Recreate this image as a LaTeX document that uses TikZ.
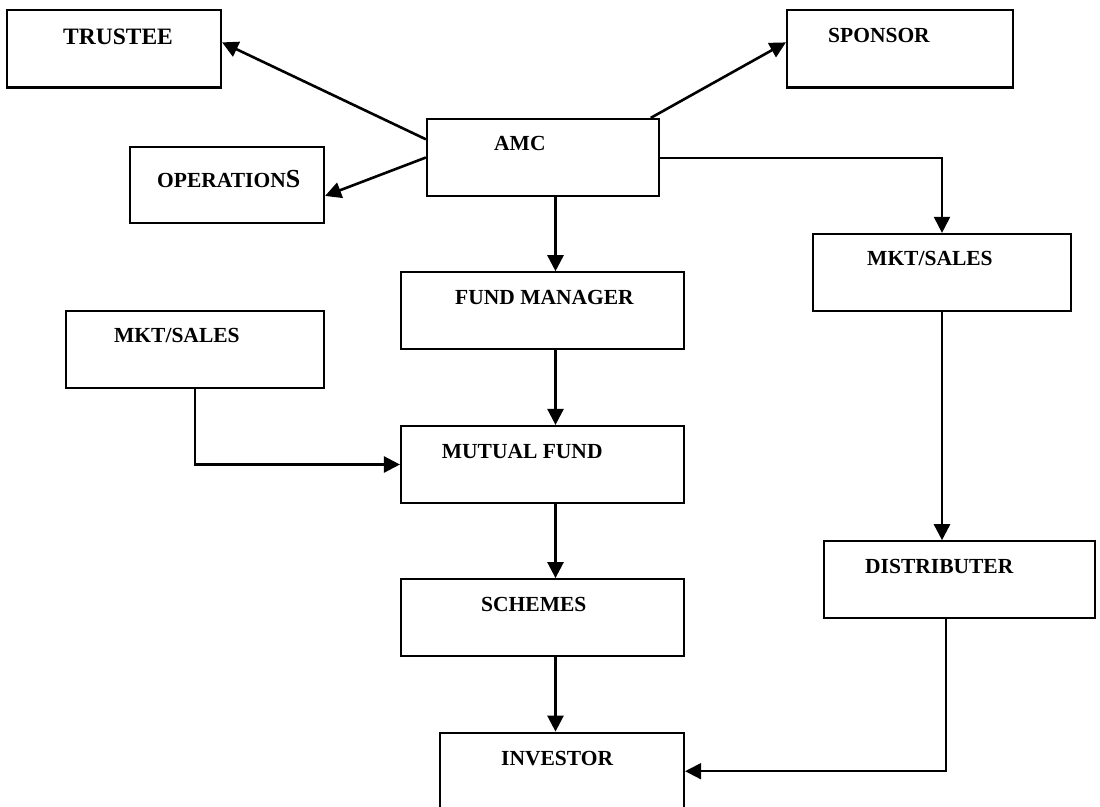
\documentclass[tikz,border=0pt]{standalone}
\usepackage{fontspec}
\setmainfont{Liberation Serif}
\usetikzlibrary{arrows.meta,calc}
\tikzset{
  box/.style={draw, rectangle, line width=2.2pt, inner sep=0pt},
  lbl/.style={anchor=base west, inner sep=0pt, font=\bfseries\fontsize{21.5}{25}\selectfont},
  arr/.style={line width=2.6pt, -{Triangle[length=16pt,width=16pt]}},
  thinarr/.style={line width=2pt, -{Triangle[length=16pt,width=16pt]}}
}
\begin{document}
\begin{tikzpicture}[x=1pt,y=-1pt]
\clip (0,0) rectangle (1100,806);
\fill[white] (0,0) rectangle (1100,806);
% boxes
\node[box, minimum width=214pt, minimum height=77.5pt] (trustee) at (114,48.75) {};
\node[box, minimum width=226pt, minimum height=77.5pt] (sponsor) at (900,48.75) {};
\node[box, minimum width=232pt, minimum height=77pt] (amc) at (543,157.5) {};
\node[box, minimum width=194pt, minimum height=76pt] (ops) at (227,185) {};
\node[box, minimum width=258pt, minimum height=77pt] (mktr) at (942,272.5) {};
\node[box, minimum width=283pt, minimum height=77pt] (fm) at (542.5,310.8) {};
\node[box, minimum width=258pt, minimum height=77pt] (mktl) at (195,349.5) {};
\node[box, minimum width=283pt, minimum height=77pt] (mf) at (542.5,464.5) {};
\node[box, minimum width=271pt, minimum height=76.4pt] (dist) at (959.5,579.5) {};
\node[box, minimum width=283pt, minimum height=77pt] (sch) at (542.5,617.7) {};
\node[box, minimum width=244pt, minimum height=77pt] (inv) at (562,771.2) {};
% labels
\node[lbl, font=\bfseries\fontsize{23.5}{27}\selectfont] (trustee-t) at (63,44) {TRUSTEE};
\node[lbl] (sponsor-t) at (828,42) {SPONSOR};
\node[lbl] (amc-t) at (494,150) {AMC};
\node[lbl] (ops-t) at (157,187.5) {OPERATION{\fontsize{26}{30}\selectfont S}};
\node[lbl] (mktr-t) at (867,265) {MKT/SALES};
\node[lbl] (fm-t) at (455,304) {FUND MANAGER};
\node[lbl] (mktl-t) at (114,342) {MKT/SALES};
\node[lbl] (mf-t) at (441.7,458) {MUTUAL FUND};
\node[lbl] (dist-t) at (865,573) {DISTRIBUTER};
\node[lbl] (sch-t) at (481,611) {SCHEMES};
\node[lbl] (inv-t) at (501,765) {INVESTOR};
% helper coordinates
\coordinate (spine) at (555.5,0);
\coordinate (dx) at (946,0);
% connectors
\draw[arr] ($(amc.north west)!0.27!(amc.south west)$) -- ($(trustee.north east)!0.42!(trustee.south east)$);
\draw[arr] (amc.west) -- ($(ops.north east)!0.64!(ops.south east)$);
\draw[arr] ($(amc.north west)!0.96!(amc.north east)$) -- ($(sponsor.north west)!0.42!(sponsor.south west)$);
\draw[thinarr] (amc.east) -| (mktr.north);
\draw[arr] (amc.south -| spine) -- (fm.north -| spine);
\draw[arr] (fm.south -| spine) -- (mf.north -| spine);
\draw[arr] (mf.south -| spine) -- (sch.north -| spine);
\draw[arr] (sch.south -| spine) -- (inv.north -| spine);
\draw[arr] (mktl.south) |- (mf.west);
\draw[arr] (mktr.south) -- (mktr.south |- dist.north);
\draw[thinarr] (dist.south -| dx) |- (inv.east);
\end{tikzpicture}
\end{document}
